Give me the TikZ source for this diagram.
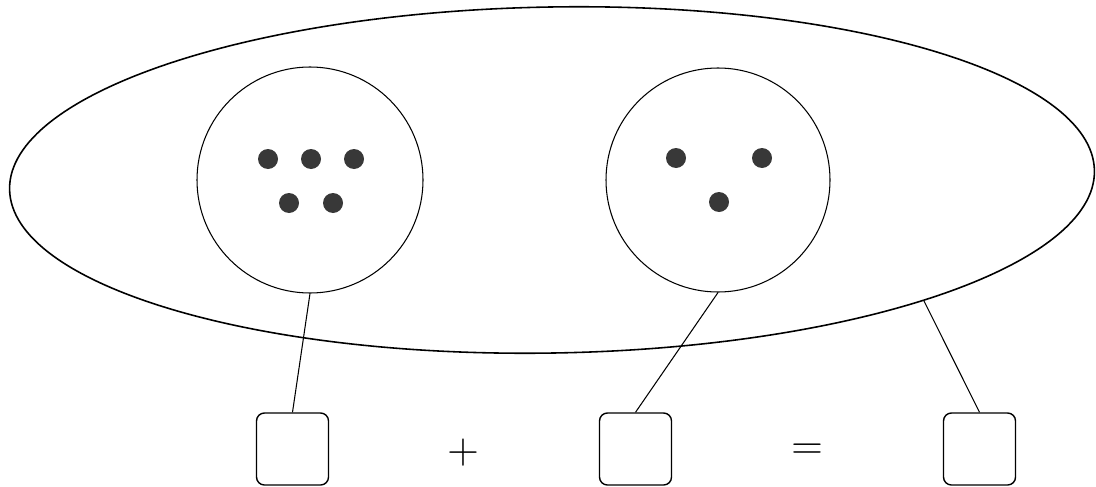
\documentclass[tikz,border=0pt]{standalone}
\usetikzlibrary{shapes.geometric}
\tikzset{
  tally/.style={circle, fill=black!78, inner sep=0pt, minimum size=0.4cm},
  answerbox/.style={draw, thick, rounded corners=4.5pt, minimum size=1.44cm, inner sep=0pt},
  sign/.style={font=\fontsize{27}{27}\selectfont, inner sep=0pt}
}
\begin{document}
\begin{tikzpicture}[line join=round]
  \useasboundingbox (0,0) rectangle (21.92,9.72);
  \node[draw, ellipse, line width=0.9pt, inner sep=0pt, minimum width=21.7cm, minimum height=6.92cm, rotate=1] (whole) at (11.04,6.12) {};
  \node[draw, circle, semithick, inner sep=0pt, minimum size=4.52cm] (lset) at (6.2,6.12) {};
  \node[draw, circle, semithick, inner sep=0pt, minimum size=4.48cm] (rset) at (14.36,6.12) {};
  \node[tally] (l1) at (5.36,6.54) {};
  \node[tally] (l2) at (6.22,6.54) {};
  \node[tally] (l3) at (7.08,6.54) {};
  \node[tally] (l4) at (5.78,5.66) {};
  \node[tally] (l5) at (6.66,5.66) {};
  \node[tally] (r1) at (13.52,6.56) {};
  \node[tally] (r2) at (15.24,6.56) {};
  \node[tally] (r3) at (14.38,5.68) {};
  \node[answerbox] (box1) at (5.85,0.74) {};
  \node[answerbox] (box2) at (12.71,0.74) {};
  \node[answerbox] (box3) at (19.59,0.74) {};
  \node[sign] (plus) at (9.26,0.66) {$+$};
  \node[sign] (equals) at (16.14,0.68) {$=$};
  \draw[semithick] (lset.south) -- (box1.north);
  \draw[semithick] (rset.south) -- (box2.north);
  \draw[semithick] (whole.-19) -- (box3.north);
\end{tikzpicture}
\end{document}
